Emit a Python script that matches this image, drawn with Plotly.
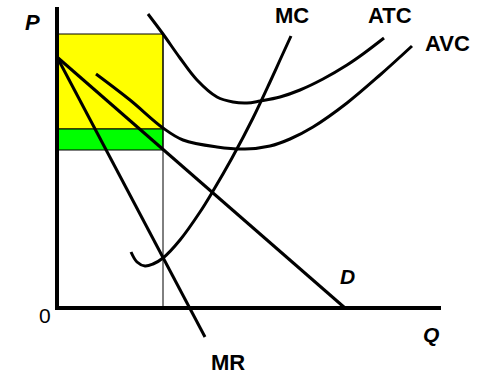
import plotly.graph_objects as go

# Coordinates: Q to the right of origin, P above origin (units ~ pixels of the diagram)
demand_q = [0, 288]
demand_p = [251, 0]

mr_q = [0, 148]
mr_p = [251, -29]

mc_q = [74, 80, 88, 96, 106, 123, 143, 156, 175, 196, 213, 223, 234]
mc_p = [56, 46, 42, 44, 50, 68, 96, 117, 150, 190, 226, 248, 272]

atc_q = [91, 106, 123, 140, 160, 176, 190, 203, 223, 243, 266, 290, 306, 327]
atc_p = [294, 274, 250, 228, 211, 206, 205, 207, 211, 218, 229, 243, 254, 270]

avc_q = [39, 73, 106, 126, 160, 188, 213, 233, 256, 290, 323, 355]
avc_p = [234, 208, 180, 168, 161, 159, 162, 169, 181, 205, 233, 262]

q_star = 106
p_atc = 274
p_avc = 179
p_price = 158

axis_top = 301
axis_right = 384

# text, x, y, bold, italic, size
labels = [
    ("P", -25, 286, True, True, 22),
    ("MC", 235, 293, True, False, 22),
    ("ATC", 333, 293, True, False, 22),
    ("AVC", 390, 265, True, False, 22),
    ("D", 290, 32, True, True, 21),
    ("Q", 374, -26, True, True, 21),
    ("MR", 171, -54, True, False, 22),
    ("0", -12, -7, False, False, 21),
]

fig = go.Figure()

fig.add_shape(type="rect", x0=0, x1=q_star, y0=p_avc, y1=p_atc,
              fillcolor="#FFFF00", line=dict(color="black", width=1), layer="below")
fig.add_shape(type="rect", x0=0, x1=q_star, y0=p_price, y1=p_avc,
              fillcolor="#00FF00", line=dict(color="black", width=1), layer="below")
fig.add_shape(type="line", x0=q_star, x1=q_star, y0=0, y1=p_atc,
              line=dict(color="black", width=1))

line_style = dict(color="black", width=3)
for q, p in [(demand_q, demand_p), (mr_q, mr_p)]:
    fig.add_trace(go.Scatter(x=q, y=p, mode="lines", line=line_style,
                             hoverinfo="skip", showlegend=False))
for q, p in [(mc_q, mc_p), (atc_q, atc_p), (avc_q, avc_p)]:
    fig.add_trace(go.Scatter(x=q, y=p, mode="lines",
                             line=dict(color="black", width=3, shape="spline", smoothing=1.0),
                             hoverinfo="skip", showlegend=False))

# axes
fig.add_trace(go.Scatter(x=[0, 0, axis_right], y=[axis_top, 0, 0], mode="lines",
                         line=dict(color="black", width=4), hoverinfo="skip", showlegend=False))

for text, x, y, bold, italic, size in labels:
    t = text
    if italic:
        t = f"<i>{t}</i>"
    if bold:
        t = f"<b>{t}</b>"
    fig.add_annotation(x=x, y=y, text=t, showarrow=False, xanchor="center", yanchor="middle",
                       font=dict(family="Liberation Sans, Arial, sans-serif", size=size, color="black"))

fig.update_layout(
    width=499, height=377,
    margin=dict(l=0, r=0, t=0, b=0),
    paper_bgcolor="white", plot_bgcolor="white",
    xaxis=dict(range=[-57, 442], visible=False, fixedrange=True),
    yaxis=dict(range=[-69, 308], visible=False, fixedrange=True),
)

fig.write_html("out.html", config={"displayModeBar": False},
               post_script="document.body.style.margin='0';")
